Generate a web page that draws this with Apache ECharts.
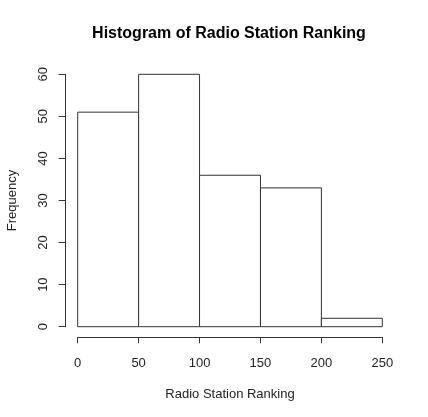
<!DOCTYPE html>
<html>
<head>
<meta charset="utf-8">
<script src="https://cdn.jsdelivr.net/npm/echarts@6/dist/echarts.min.js"></script>
<style>
  html, body { margin: 0; padding: 0; background: #fff; }
  #main { width: 428px; height: 417px; }
</style>
</head>
<body>
<div id="main"></div>
<script>
// Histogram bins (left edge, right edge) and counts
const binStarts = [0, 50, 100, 150, 200];
const binEnds = [50, 100, 150, 200, 250];
const counts = [51, 60, 36, 33, 2];

const xTicks = [0, 50, 100, 150, 200, 250];
const yTicks = [0, 10, 20, 30, 40, 50, 60];

const chart = echarts.init(document.getElementById('main'));

const lineColor = '#333';
const textColor = '#222';
const font = 'Liberation Sans, Arial, sans-serif';

const option = {
    backgroundColor: '#fff',
    animation: false,
    title: {
        text: 'Histogram of Radio Station Ranking',
        left: 224,
        textAlign: 'center',
        top: 21,
        textStyle: { fontFamily: font, fontSize: 16, fontWeight: 'bold', color: '#000' }
    },
    grid: { left: 77.7, right: 45.7, top: 74.3, bottom: 90.3, outerBoundsMode: 'none', containLabel: false },
    xAxis: {
        type: 'value',
        min: 0,
        max: 250,
        interval: 50,
        offset: 10.6,
        name: 'Radio Station Ranking',
        nameLocation: 'middle',
        nameGap: 51,
        nameTextStyle: { fontFamily: font, fontSize: 13, color: textColor },
        axisLine: { show: true, onZero: false, lineStyle: { color: lineColor, width: 1 } },
        axisTick: { show: true, length: 6, lineStyle: { color: lineColor } },
        axisLabel: { fontFamily: font, fontSize: 13, color: textColor, margin: 20,
            formatter: v => xTicks.includes(v) ? String(v) : '' },
        splitLine: { show: false }
    },
    yAxis: {
        type: 'value',
        min: 0,
        max: 60,
        interval: 10,
        offset: 12,
        name: 'Frequency',
        nameLocation: 'middle',
        nameRotate: 90,
        nameGap: 47,
        nameTextStyle: { fontFamily: font, fontSize: 13, color: textColor },
        axisLine: { show: true, onZero: false, lineStyle: { color: lineColor, width: 1 } },
        axisTick: { show: true, length: 7, lineStyle: { color: lineColor } },
        axisLabel: { fontFamily: font, fontSize: 13, color: textColor, margin: 16, rotate: 90,
            formatter: v => yTicks.includes(v) ? String(v) : '' },
        splitLine: { show: false }
    },
    series: [{
        type: 'custom',
        data: counts.map((c, i) => [binStarts[i], binEnds[i], c]),
        encode: { x: [0, 1], y: 2 },
        renderItem: (params, api) => {
            const topLeft = api.coord([api.value(0), api.value(2)]);
            const bottomRight = api.coord([api.value(1), 0]);
            return {
                type: 'rect',
                shape: {
                    x: topLeft[0],
                    y: topLeft[1],
                    width: bottomRight[0] - topLeft[0],
                    height: bottomRight[1] - topLeft[1]
                },
                style: { fill: '#fff', stroke: lineColor, lineWidth: 1 }
            };
        }
    }]
};

chart.setOption(option);
</script>
</body>
</html>
